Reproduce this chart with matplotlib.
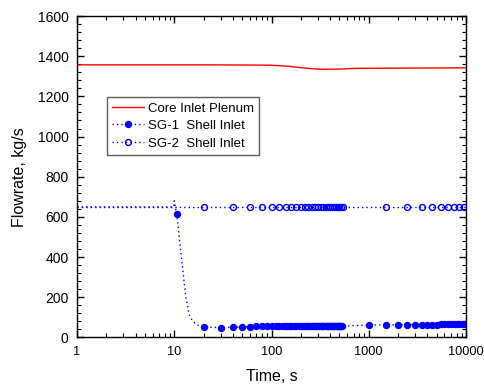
import matplotlib
matplotlib.use("Agg")
import matplotlib.pyplot as plt
from matplotlib.ticker import LogLocator, MultipleLocator, NullFormatter, FixedLocator, FixedFormatter

plt.rcParams['font.family'] = ['Liberation Sans', 'DejaVu Sans']

# Core Inlet Plenum (red line)
core_time = [1, 20, 60, 100, 150, 200, 270, 350, 500, 700, 1000, 3000, 10000]
core_flow = [1357, 1357, 1356, 1355, 1350, 1343, 1337, 1335, 1336, 1339, 1340, 1341, 1342]

# SG-1 Shell Inlet (dotted line with filled markers)
sg1_time = [1, 9.9, 10.0, 10.6, 10.75, 11.27, 11.9, 12.5, 13.2, 14.3, 15.2, 16.3, 18.1,
            20, 30, 40, 50, 60, 70, 80, 90, 100, 110, 120, 130, 140, 150, 160, 170, 180, 190,
            200, 210, 220, 230, 240, 250, 260, 270, 280, 290, 300, 310, 320, 330, 340, 350,
            360, 370, 380, 390, 400, 410, 420, 430, 440, 450, 460, 470, 480, 490, 500, 510,
            520, 530,
            1000, 1500, 2000, 2500, 3000, 3500, 4000, 4500, 5000, 5500, 6000, 6500, 7000,
            7500, 8000, 8500, 9000, 9500, 10000]
sg1_flow = [650, 650, 680, 613, 593, 494, 394, 295, 195, 112, 87, 71, 57,
            52, 49, 51, 53, 54, 55, 56, 56, 57, 57, 57, 57, 57, 56, 56, 56, 56, 56,
            55, 55, 55, 55, 55, 55, 55, 55, 55, 55, 55, 55, 55, 55, 55, 55,
            55, 55, 55, 55, 56, 56, 56, 56, 56, 56, 56, 56, 56, 56, 56, 56,
            56, 57,
            62, 63, 63, 64, 64, 64, 64, 64, 64, 65, 65, 65, 65,
            65, 65, 65, 65, 65, 65]

# SG-2 Shell Inlet (dotted line with open markers)
sg2_time = [1, 10, 20, 40, 60, 80, 100, 120, 140, 160, 180, 200, 220, 240, 260, 280, 300,
            320, 340, 360, 380, 400, 420, 440, 460, 480, 500, 520, 540,
            1500, 2500, 3500, 4500, 5500, 6500, 7500, 8500, 9500, 10000]
sg2_flow = [650] * len(sg2_time)

fig = plt.figure(figsize=(4.85, 3.85), dpi=100)
ax = fig.add_axes([0.1588, 0.1234, 0.8020, 0.8350])

ax.plot(core_time, core_flow, color='#ff0000', lw=1.0, label='Core Inlet Plenum')

sg1_marks = [i for i, t in enumerate(sg1_time) if t == 10.6 or t >= 20]
ax.plot(sg1_time, sg1_flow, color='#0000ff', lw=1.0, ls=(0, (1, 2.2)),
        marker='o', markersize=4.3, markevery=sg1_marks,
        markerfacecolor='#0000ff', markeredgecolor='#0000ff',
        label='SG-1  Shell Inlet')

sg2_marks = [i for i, t in enumerate(sg2_time) if 10 < t < 10000]
ax.plot(sg2_time, sg2_flow, color='#0000ff', lw=1.0, ls=(0, (1, 2.2)),
        marker='o', markersize=4.3, markevery=sg2_marks,
        markerfacecolor='none', markeredgecolor='#0000ff', markeredgewidth=1.0,
        label='SG-2  Shell Inlet')

ax.set_xscale('log')
ax.set_xlim(1, 10000)
ax.set_ylim(0, 1600)

ax.xaxis.set_major_locator(FixedLocator([1, 10, 100, 1000, 10000]))
ax.xaxis.set_major_formatter(FixedFormatter(['1', '10', '100', '1000', '10000']))
ax.xaxis.set_minor_locator(LogLocator(base=10, subs=range(2, 10)))
ax.xaxis.set_minor_formatter(NullFormatter())
ax.yaxis.set_major_locator(MultipleLocator(200))
ax.yaxis.set_minor_locator(MultipleLocator(40))

ax.tick_params(which='both', direction='in', top=True, right=True, colors='black')
ax.tick_params(axis='y', labelsize=10)
ax.tick_params(axis='x', labelsize=9.2)
ax.tick_params(which='major', length=5, width=1.0, pad=6)
ax.tick_params(which='minor', length=3, width=0.8)
for s in ax.spines.values():
    s.set_linewidth(1.0)
    s.set_color('black')

ax.set_xlabel('Time, s', fontsize=11.5, labelpad=8)
ax.set_ylabel('Flowrate, kg/s', fontsize=11.5, labelpad=8)

leg = ax.legend(loc='upper left', bbox_to_anchor=(0.077, 0.748), fontsize=9.5,
                frameon=True, fancybox=False, handlelength=2.4, handletextpad=0.3,
                labelspacing=0.4, borderpad=0.4, borderaxespad=0.0)
leg.get_frame().set_edgecolor('#333333')
leg.get_frame().set_linewidth(1.0)

fig.savefig('out.png', dpi=100)
